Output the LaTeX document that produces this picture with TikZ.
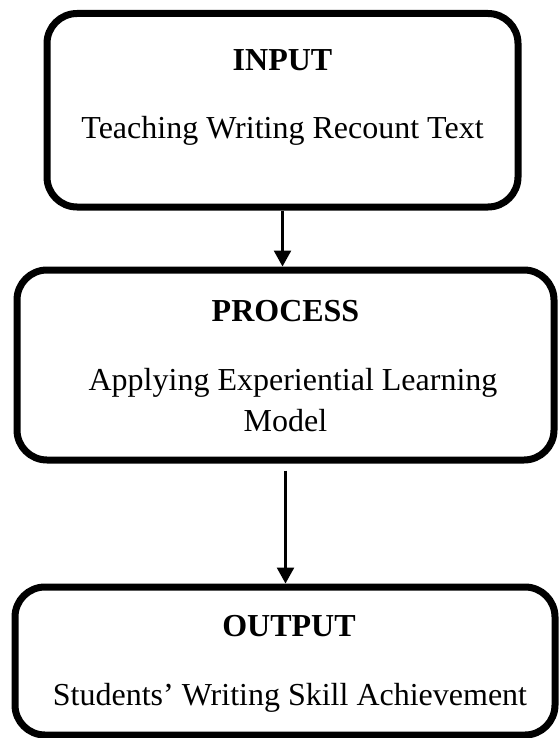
\documentclass[tikz,border=0pt]{standalone}
\usepackage{fontspec}
\setmainfont{Liberation Serif}
\usetikzlibrary{arrows.meta}

\begin{document}
\begin{tikzpicture}[x=0.5pt,y=-0.5pt,
  stagebox/.style={draw=black, line width=3.5pt, rounded corners=15pt,
    inner sep=0pt, fill=none},
  headtext/.style={anchor=base, font=\fontsize{16}{19}\selectfont\bfseries},
  bodytext/.style={anchor=base, font=\fontsize{16}{19}\selectfont},
  flow/.style={draw=black, line width=1.3pt,
    -{Triangle[width=8.5pt,length=8pt]}}]

  % page frame
  \useasboundingbox (0,0) rectangle (558,738);

  % stage boxes
  \node[stagebox, minimum width=235.5pt, minimum height=96.75pt] (input) at (282.5,110.25) {};
  \node[stagebox, minimum width=268.5pt, minimum height=95pt] (process) at (285.5,365) {};
  \node[stagebox, minimum width=270pt, minimum height=74pt] (output) at (285,661) {};

  % box texts
  \node[headtext] (inputhead) at (282.5,70.7) {INPUT};
  \node[bodytext] (inputbody) at (282.5,138.3) {Teaching Writing Recount Text};

  \node[headtext] (processhead) at (285.5,321.7) {PROCESS};
  \node[bodytext] (processbody) at (293,390) {Applying Experiential Learning};
  \node[bodytext] (processbodyb) at (285.5,431.7) {Model};

  \node[headtext] (outputhead) at (289,636.7) {OUTPUT};
  \node[bodytext] (outputbody) at (290,705) {Students’ Writing Skill Achievement};

  % connectors
  \draw[flow] (input.south) -- (input.south |- process.north);
  \draw[flow] ([yshift=-3.5pt]process.south) -- (process.south |- output.north);
\end{tikzpicture}
\end{document}
